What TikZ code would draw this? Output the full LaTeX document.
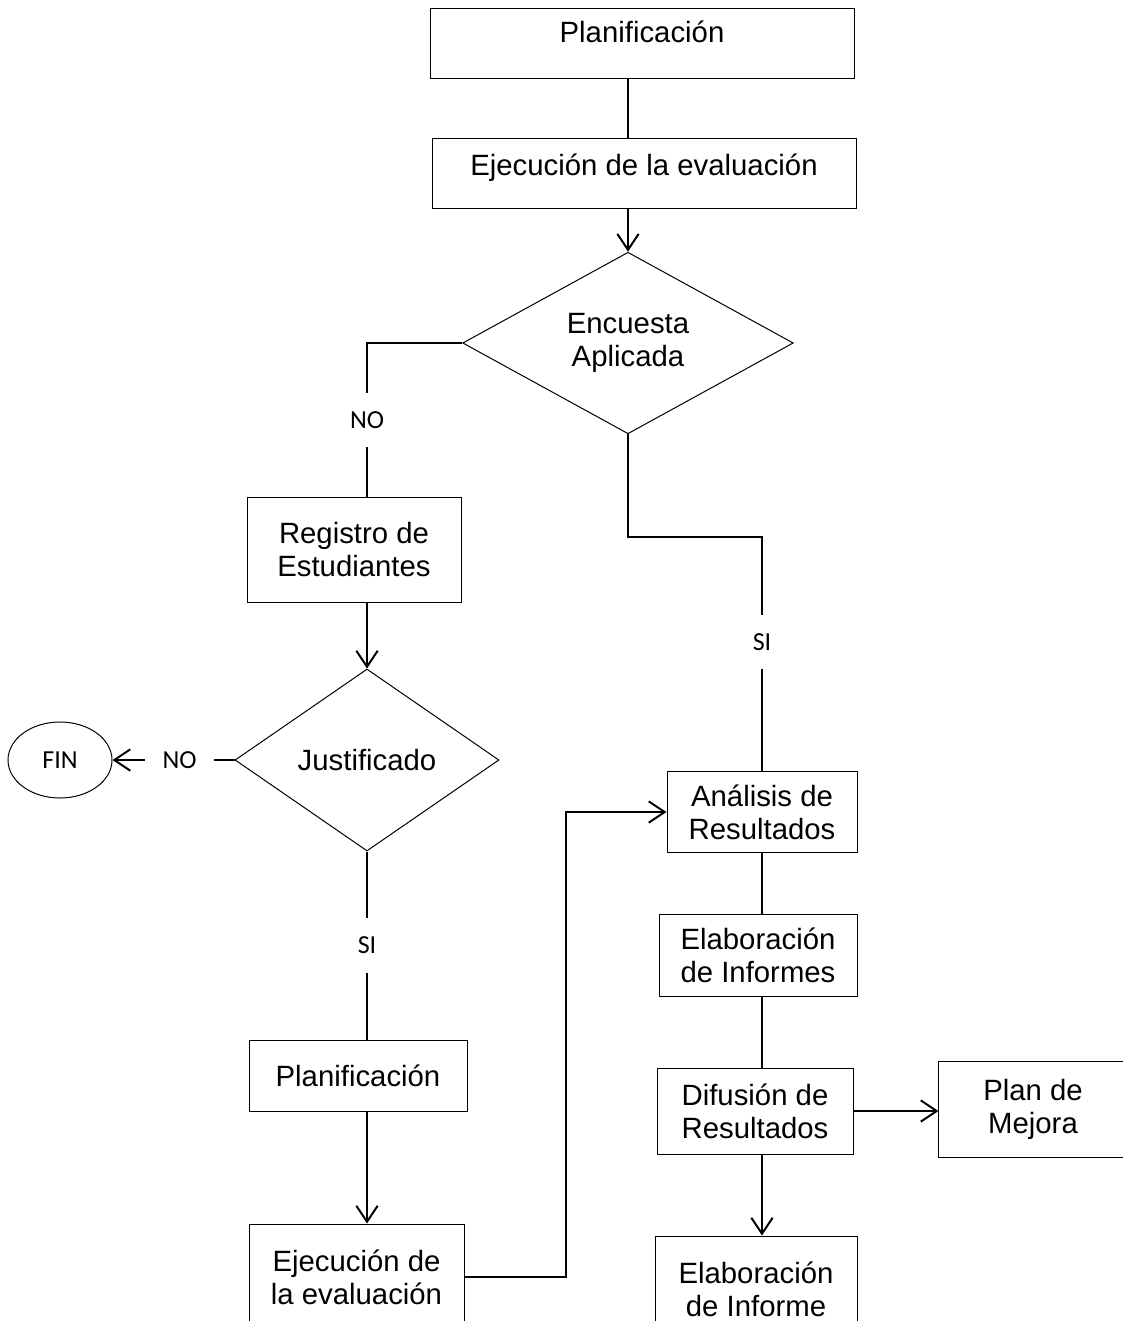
\documentclass[tikz,border=0pt]{standalone}
\usepackage{fontspec}
\setmainfont{Liberation Sans}
\newfontfamily\lblfont{Carlito}
\usetikzlibrary{shapes.geometric,arrows.meta}
\tikzset{
  box/.style={draw, line width=0.75pt, align=center, inner sep=0pt, font=\fontsize{22}{24.75}\selectfont},
  decision/.style={draw, diamond, line width=0.75pt, align=center, inner sep=0pt, font=\fontsize{22}{24.75}\selectfont},
  lbl/.style={fill=white, inner xsep=13pt, inner ysep=14pt, font=\lblfont\fontsize{19.5}{22}\selectfont},
  line/.style={line width=1.5pt},
  arr/.style={line width=1.5pt, -{Straight Barb[length=12pt,width=16pt]}}
}
\begin{document}
\begin{tikzpicture}[x=0.75pt,y=-0.75pt]
\useasboundingbox (0,0) rectangle (1123,1321);
\clip (0,0) rectangle (1123,1321);
% upper part
\node[box, minimum width=318pt, minimum height=52.5pt] (plan1) at (642,43) {Planificación\\[-8pt]};
\node[box, minimum width=318pt, minimum height=52.5pt] (ejec1) at (644,173) {Ejecución de la evaluación\\[-12pt]};
\node[decision, minimum width=248pt, minimum height=136pt] (enc) at (628,343) {Encuesta\\Aplicada};
% left branch
\node[box, minimum width=160.5pt, minimum height=78.75pt] (reg) at (354,549.5) {Registro de\\Estudiantes};
\node[decision, minimum width=198pt, minimum height=136.5pt] (just) at (367,760) {Justificado};
\node[draw, ellipse, line width=0.75pt, minimum width=78pt, minimum height=57pt, font=\lblfont\fontsize{19.5}{22}\selectfont] (fin) at (60,760) {FIN};
\node[box, minimum width=163.5pt, minimum height=53.25pt] (plan2) at (358,1075.5) {Planificación};
\node[box, minimum width=161.25pt, minimum height=79.5pt] (ejec2) at (356.5,1277) {Ejecución de\\la evaluación};
% right branch
\node[box, minimum width=142.5pt, minimum height=60.75pt] (anal) at (762,812) {Análisis de\\Resultados};
\node[box, minimum width=148.5pt, minimum height=61.5pt] (elab1) at (758,955) {Elaboración\\de Informes};
\node[box, minimum width=147pt, minimum height=64.5pt] (dif) at (755,1111) {Difusión de\\Resultados};
\node[box, draw=none, minimum width=165pt, minimum height=71.25pt] (mejora) at (1049,1109) {\hspace*{-24pt}Plan de\\\hspace*{-24pt}Mejora};
\draw[line width=0.75pt] (mejora.north east) -- (mejora.north west) -- (mejora.south west) -- (mejora.south east);
\node[box, minimum width=151.5pt, minimum height=79.5pt] (elab2) at (756,1289) {Elaboración\\de Informe};
\coordinate (siturn) at (762,537);
\coordinate (jog) at (566,812);

\draw[line] (plan1.south -| enc.north) -- (ejec1.north -| enc.north);
\draw[arr] (ejec1.south -| enc.north) -- (enc.north);
\draw[line] (enc.west) -| node[lbl, pos=0.75]{NO} (reg.north -| just.north);
\draw[arr] (reg.south -| just.north) -- (just.north);
\draw[arr] (just.west) -- node[lbl, pos=0.45]{NO} (fin.east);
\draw[line] (just.south) -- node[lbl]{SI} (plan2.north -| just.south);
\draw[arr] (plan2.south -| just.south) -- (ejec2.north -| just.south);
\draw[arr] (ejec2.east) -| (jog) -- (anal.west);
\draw[line] (enc.south) |- (siturn) -- node[lbl, pos=0.45]{SI} (anal.north);
\draw[line] (anal.south) -- (elab1.north -| anal.south);
\draw[line] (elab1.south -| anal.south) -- (dif.north -| anal.south);
\draw[arr] (dif.east) -- (dif.east -| mejora.west);
\draw[arr] (dif.south -| anal.south) -- (elab2.north -| anal.south);
\end{tikzpicture}
\end{document}
